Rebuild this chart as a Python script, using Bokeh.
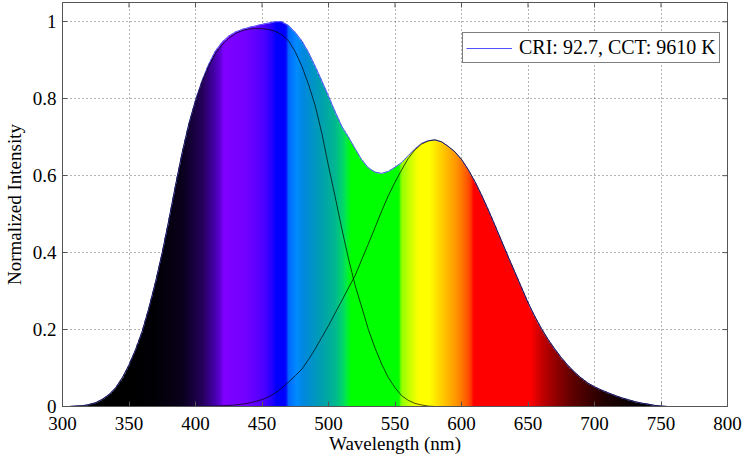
import numpy as np
from bokeh.plotting import figure
from bokeh.models import FixedTicker, Range1d, Legend, LegendItem
from bokeh.embed import file_html
from bokeh.resources import INLINE

# ---------------- data ----------------
wavelength = list(range(300, 760, 5))
total = [0.000, 0.000, 0.001, 0.002, 0.005, 0.010, 0.019, 0.031, 0.049, 0.075,   # 300-345
         0.108, 0.148, 0.196, 0.256, 0.324, 0.400, 0.485, 0.575, 0.660, 0.735,   # 350-395
         0.796, 0.848, 0.890, 0.924, 0.947, 0.963, 0.973, 0.980, 0.985, 0.989,   # 400-445
         0.993, 0.997, 1.000, 1.000, 0.990, 0.972, 0.950, 0.920, 0.884, 0.846,   # 450-495
         0.806, 0.766, 0.728, 0.700, 0.670, 0.641, 0.620, 0.609, 0.606, 0.611,   # 500-545
         0.622, 0.634, 0.652, 0.670, 0.684, 0.691, 0.693, 0.688, 0.676, 0.662,   # 550-595
         0.642, 0.616, 0.585, 0.550, 0.512, 0.472, 0.431, 0.390, 0.350, 0.310,   # 600-645
         0.270, 0.235, 0.203, 0.175, 0.150, 0.127, 0.107, 0.089, 0.074, 0.061,   # 650-695
         0.051, 0.043, 0.036, 0.029, 0.023, 0.018, 0.013, 0.009, 0.006, 0.003,   # 700-745
         0.001, 0.000]                                                           # 750-755

blue_wl = list(range(300, 585, 5))
blue_comp = [0.000, 0.000, 0.001, 0.002, 0.005, 0.010, 0.019, 0.031, 0.049, 0.075,   # 300-345
             0.108, 0.148, 0.196, 0.256, 0.324, 0.400, 0.485, 0.575, 0.660, 0.734,   # 350-395
             0.794, 0.845, 0.886, 0.918, 0.940, 0.957, 0.969, 0.977, 0.981, 0.982,   # 400-445
             0.982, 0.980, 0.975, 0.966, 0.950, 0.922, 0.884, 0.837, 0.782, 0.710,   # 450-495
             0.625, 0.545, 0.462, 0.385, 0.315, 0.258, 0.200, 0.152, 0.110, 0.075,   # 500-545
             0.049, 0.028, 0.016, 0.008, 0.004, 0.001, 0.000]                        # 550-580

yellow_wl = list(range(400, 760, 5))
yellow_comp = [0.000, 0.000, 0.001, 0.001, 0.002, 0.003, 0.004, 0.006, 0.009, 0.013,   # 400-445
               0.018, 0.025, 0.035, 0.048, 0.064, 0.080, 0.097, 0.122, 0.150, 0.180,   # 450-495
               0.210, 0.243, 0.275, 0.308, 0.340, 0.382, 0.423, 0.465, 0.508, 0.548,   # 500-545
               0.583, 0.615, 0.645, 0.667, 0.682, 0.690, 0.693, 0.688, 0.676, 0.662,   # 550-595
               0.642, 0.616, 0.585, 0.550, 0.512, 0.472, 0.431, 0.390, 0.350, 0.310,   # 600-645
               0.270, 0.235, 0.203, 0.175, 0.150, 0.127, 0.107, 0.089, 0.074, 0.061,   # 650-695
               0.051, 0.043, 0.036, 0.029, 0.023, 0.018, 0.013, 0.009, 0.006, 0.003,   # 700-745
               0.001, 0.000]                                                           # 750-755

x_ticks = [300, 350, 400, 450, 500, 550, 600, 650, 700, 750, 800]
y_ticks = [0, 0.2, 0.4, 0.6, 0.8, 1]
y_tick_labels = ["0", "0.2", "0.4", "0.6", "0.8", "1"]
legend_label = "CRI: 92.7, CCT: 9610 K"
x_label = "Wavelength (nm)"
y_label = "Normalized Intensity"

# ---------------- style ----------------
FONT = "Liberation Serif"
AXIS_COLOR = "#555555"
X_MIN, X_MAX, Y_MIN, Y_MAX = 300, 800, 0, 1.05
SPECTRUM_STOPS = [
    (300, "#000000"), (352, "#000000"), (370, "#020006"), (390, "#0a001c"),
    (405, "#240058"), (414, "#4400a8"), (419, "#6200d8"), (421, "#8000ff"),
    (438, "#7400ff"), (452, "#4c00ff"), (458, "#2000ff"), (461, "#0000ff"),
    (468, "#0000ff"), (470, "#0068ff"), (476, "#008cff"), (481, "#0088e0"),
    (495, "#00a0b0"), (505, "#00b890"), (511, "#00d868"), (514, "#00f038"),
    (517, "#00ff00"), (553, "#00ff00"), (555, "#90ff00"), (562, "#d0ff00"),
    (568, "#ffff00"), (576, "#ffff00"), (585, "#ffd000"), (597, "#ff9000"),
    (605, "#ff5000"), (607.5, "#ff3000"), (609, "#ff0000"), (652, "#ff0000"),
    (660, "#c80000"), (668, "#a00000"), (683, "#600000"), (708, "#200000"),
    (730, "#080000"), (750, "#000000"), (800, "#000000")]

# ---------------- spectrum-coloured fill as an RGBA image ----------------
nx, ny = 1000, 630
xs = X_MIN + (np.arange(nx) + 0.5) * (X_MAX - X_MIN) / nx
dy = (Y_MAX - Y_MIN) / ny
ys = Y_MIN + (np.arange(ny) + 0.5) * dy
sw = np.array([s[0] for s in SPECTRUM_STOPS], dtype=float)
chan = np.array([[int(s[1][i:i + 2], 16) for i in (1, 3, 5)] for s in SPECTRUM_STOPS], dtype=float)
r = np.interp(xs, sw, chan[:, 0])
g = np.interp(xs, sw, chan[:, 1])
b = np.interp(xs, sw, chan[:, 2])
top = np.interp(xs, wavelength, total, left=0, right=0)
alpha = np.clip((top[None, :] - ys[:, None]) / dy + 0.5, 0, 1) * 255

img = np.zeros((ny, nx), dtype=np.uint32)
view = img.view(dtype=np.uint8).reshape((ny, nx, 4))
view[..., 0] = np.broadcast_to(r, (ny, nx)).astype(np.uint8)
view[..., 1] = np.broadcast_to(g, (ny, nx)).astype(np.uint8)
view[..., 2] = np.broadcast_to(b, (ny, nx)).astype(np.uint8)
view[..., 3] = alpha.astype(np.uint8)

# ---------------- figure ----------------
p = figure(width=746, height=461, output_backend="svg", toolbar_location=None,
           x_range=Range1d(X_MIN, X_MAX), y_range=Range1d(Y_MIN, Y_MAX),
           min_border_left=60, min_border_right=19, min_border_top=2,
           min_border_bottom=55, background_fill_color="white",
           border_fill_color="white")
p.outline_line_color = AXIS_COLOR

p.image_rgba(image=[img], x=X_MIN, y=Y_MIN, dw=X_MAX - X_MIN, dh=Y_MAX - Y_MIN)

r_total = p.line(wavelength, total, line_color="#5050ff", line_width=1)
p.line(blue_wl, blue_comp, line_color="black", line_width=0.7)
p.line(yellow_wl, yellow_comp, line_color="black", line_width=0.7)

# box ticks on the top and right edges (inside, like the bottom/left axes)
p.scatter(x=x_ticks, y=[Y_MAX] * len(x_ticks), marker="dash", size=10,
          angle=np.pi / 2, line_color=AXIS_COLOR, line_width=1)
p.scatter(x=[X_MAX] * len(y_ticks), y=y_ticks, marker="dash", size=10,
          line_color=AXIS_COLOR, line_width=1)

# axes
p.xaxis.ticker = FixedTicker(ticks=x_ticks)
p.yaxis.ticker = FixedTicker(ticks=y_ticks)
p.yaxis.major_label_overrides = {t: l for t, l in zip(y_ticks, y_tick_labels)}
p.xaxis.axis_label = x_label
p.yaxis.axis_label = y_label
for ax in (p.xaxis, p.yaxis):
    ax.major_tick_in = 5
    ax.major_tick_out = 0
    ax.minor_tick_line_color = None
    ax.axis_line_color = AXIS_COLOR
    ax.major_tick_line_color = AXIS_COLOR
    ax.major_label_text_font = FONT
    ax.major_label_text_font_size = "19px"
    ax.major_label_text_color = "black"
    ax.axis_label_text_font = FONT
    ax.axis_label_text_font_size = "19px"
    ax.axis_label_text_font_style = "normal"
    ax.axis_label_text_color = "black"
p.xaxis.major_label_standoff = 10
p.xaxis.axis_label_standoff = 0
p.yaxis.major_label_standoff = 6
p.yaxis.axis_label_standoff = 5

# grid
p.xgrid.ticker = FixedTicker(ticks=x_ticks)
p.ygrid.ticker = FixedTicker(ticks=y_ticks)
for gr in (p.xgrid, p.ygrid):
    gr.grid_line_color = "#333333"
    gr.grid_line_alpha = 0.75
    gr.grid_line_dash = "1 3"
    gr.grid_line_width = 1

# legend
legend = Legend(items=[LegendItem(label=legend_label, renderers=[r_total])],
                location=(400, 343))
legend.label_text_font = FONT
legend.label_text_font_size = "20px"
legend.label_text_color = "black"
legend.border_line_color = "black"
legend.border_line_width = 1
legend.background_fill_color = "white"
legend.background_fill_alpha = 1
legend.padding = 3
legend.margin = 0
legend.glyph_width = 46
legend.glyph_height = 20
legend.label_height = 20
legend.label_standoff = 7
p.add_layout(legend)

open("out.html", "w").write(file_html(p, INLINE))
